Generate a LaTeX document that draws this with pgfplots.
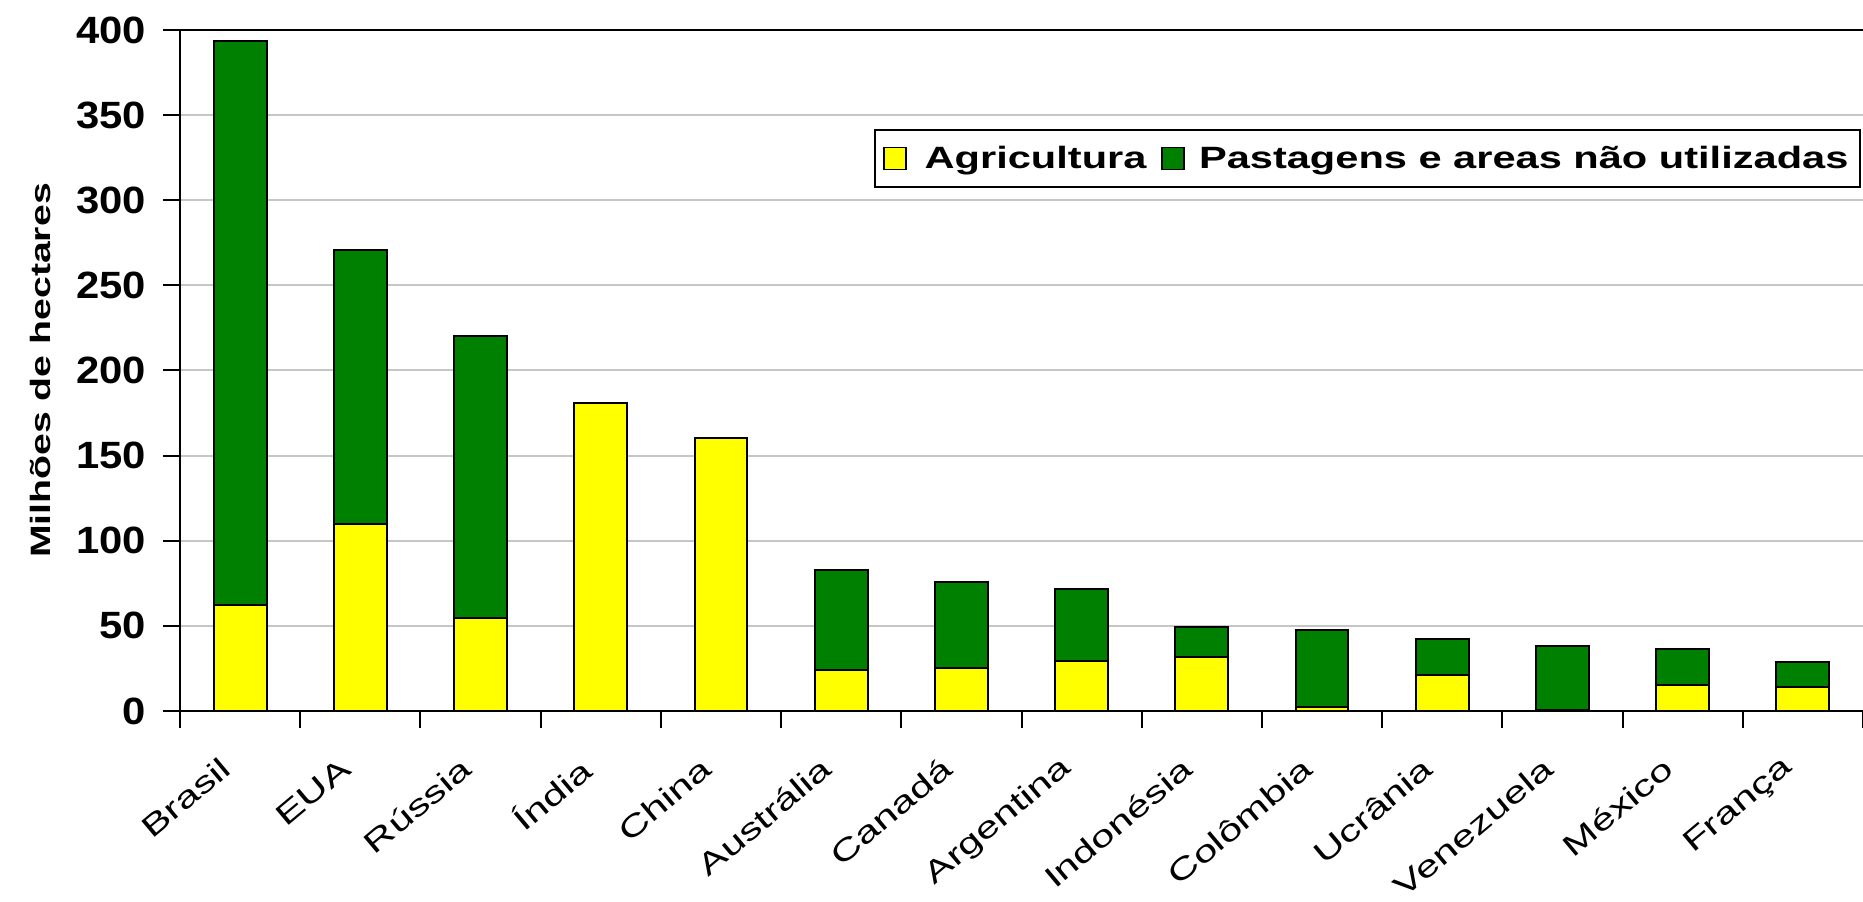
\documentclass[border=0pt]{standalone}
\usepackage{pgfplots}
\pgfplotsset{compat=1.18}
\usepackage{fontspec}
\setmainfont{Liberation Sans}
\newfontfamily\wide[FakeStretch=1.4]{Liberation Sans}
\newfontfamily\legfont[FakeStretch=1.35]{Liberation Sans}
\newfontfamily\tickfont[FakeStretch=1.1]{Liberation Sans}
\definecolor{agri}{RGB}{255,255,0}
\definecolor{past}{RGB}{0,128,0}
\begin{document}
\begin{tikzpicture}
\begin{axis}[
  width=841.5pt, height=340.5pt, scale only axis,
  ybar stacked, bar width=0.44,
  xmin=-0.5, xmax=13.5, ymin=0, ymax=400,
  axis x line*=bottom, axis y line*=left,
  axis line style={black, line width=1.2pt},
  tick align=outside,
  ytick={0,50,...,400},
  ymajorgrids, grid style={draw=gray!45, line width=1pt},
  major tick length=8.5pt, minor tick length=8.5pt,
  ytick style={black, line width=1pt},
  xtick={0,...,13},
  xticklabels={Brasil,EUA,Rússia,Índia,China,Austrália,Canadá,Argentina,Indonésia,Colômbia,Ucrânia,Venezuela,México,França},
  major x tick style={draw=none},
  minor xtick={-0.5,0.5,...,13.5},
  minor x tick style={black, line width=1pt},
  /pgf/number format/assume math mode=true,
  yticklabel style={font=\tickfont\bfseries\fontsize{19}{20}\selectfont, xshift=-5pt},
  x tick label style={rotate=40, anchor=east, font=\wide\fontsize{15}{18}\selectfont, xshift=-13.6pt, yshift=-9.3pt},
  ylabel={Milhões de hectares},
  ylabel style={at={(rel axis cs:0,0.5)}, anchor=center, yshift=70pt, font=\wide\bfseries\fontsize{14}{18}\selectfont},
  legend image code/.code={\draw[#1,draw=black,line width=0.8pt] (0pt,-5.5pt) rectangle (11pt,5.5pt);},
  legend style={at={(rel axis cs:0.4124,0.8546)}, anchor=north west, legend columns=-1, draw=black, line width=1pt,
    font=\legfont\bfseries\fontsize{15.4}{18}\selectfont, inner xsep=4pt, inner ysep=6pt,
    /tikz/every even column/.append style={column sep=5.5pt}},
]
\addplot[fill=agri, draw=black, line width=1pt] coordinates {
  (0,62.5) (1,110) (2,54.7) (3,181) (4,160.5) (5,24) (6,25)
  (7,29.6) (8,32) (9,2.6) (10,21) (11,0.5) (12,15.2) (13,13.8)
};
\addlegendentry{\hspace{7pt}Agricultura}
\addplot[fill=past, draw=black, line width=1pt] coordinates {
  (0,331) (1,160.5) (2,165.3) (3,0) (4,0) (5,59) (6,51)
  (7,41.9) (8,17.4) (9,44.8) (10,21) (11,37.8) (12,21) (13,14.9)
};
\addlegendentry{\hspace{5pt}Pastagens e areas não utilizadas}
\draw[black, line width=1.2pt] (rel axis cs:0,1) -- (rel axis cs:1,1);
\end{axis}
\pgfresetboundingbox
\path[use as bounding box] ([xshift=-90pt,yshift=-95.5pt]current axis.south west) rectangle ([yshift=15pt]current axis.north east);
\end{tikzpicture}
\end{document}
